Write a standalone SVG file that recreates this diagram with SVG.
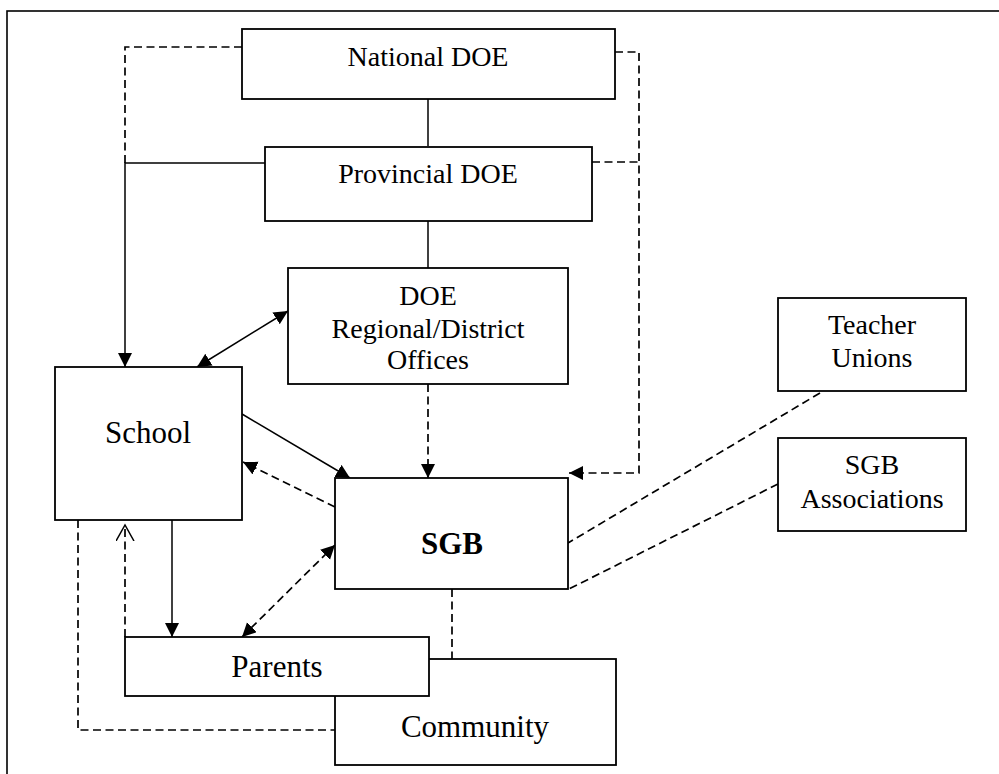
<svg xmlns="http://www.w3.org/2000/svg" width="999" height="774" viewBox="0 0 999 774">
<style>
.box{fill:#fff;stroke:#000;stroke-width:1.8}
.t{font-family:"Liberation Serif","Times New Roman",serif;font-size:28px;fill:#000;text-anchor:middle}
.tl{font-size:31px}
.b{font-weight:bold}
.c{fill:none;stroke:#000;stroke-width:1.5}
.d{stroke-dasharray:8 4.5;stroke-width:1.7}
</style>
<defs>
<marker id="ah" markerUnits="userSpaceOnUse" markerWidth="16" markerHeight="16" refX="14" refY="7" orient="auto-start-reverse">
<path d="M0,0 L14,7 L0,14 z" fill="#000"/>
</marker>
<marker id="oh" markerUnits="userSpaceOnUse" markerWidth="20" markerHeight="20" refX="16" refY="9" orient="auto">
<path d="M0,0 L16,9 L0,18" fill="none" stroke="#000" stroke-width="1.5"/>
</marker>
</defs>
<rect x="7" y="11" width="1000" height="800" fill="#fff" stroke="#000" stroke-width="1.6"/>
<g id="connectors">
<path class="c" d="M428,99 V146"/>
<path class="c" d="M428,221 V268"/>
<path class="c d" d="M242,47 H125 V163"/>
<path class="c" d="M265,163 H125 V367" marker-end="url(#ah)"/>
<path class="c d" d="M615,52 H639 V473 H569" marker-end="url(#ah)"/>
<path class="c d" d="M592,162 H639"/>
<path class="c" d="M197,367 L288,311" marker-start="url(#ah)" marker-end="url(#ah)"/>
<path class="c d" d="M428,384 V478" marker-end="url(#ah)"/>
<path class="c" d="M242,414 L350,478" marker-end="url(#ah)"/>
<path class="c d" d="M335,507 L243,462" marker-end="url(#ah)"/>
<path class="c d" d="M242,637 L335,545" marker-start="url(#ah)" marker-end="url(#ah)"/>
<path class="c" d="M172,520 V637" marker-end="url(#ah)"/>
<path class="c d" d="M125,637 V525" marker-end="url(#oh)"/>
<path class="c d" d="M78,520 V730 H335"/>
<path class="c d" d="M452,589 V659"/>
<path class="c d" d="M820,393 L568,543"/>
<path class="c d" d="M778,484 L569,589"/>
</g>
<g id="national">
<rect class="box" x="242" y="29" width="373" height="70"/>
<text class="t" x="428" y="66">National DOE</text>
</g>
<g id="provincial">
<rect class="box" x="265" y="147" width="327" height="74"/>
<text class="t" x="428" y="183">Provincial DOE</text>
</g>
<g id="regional">
<rect class="box" x="288" y="268" width="280" height="116"/>
<text class="t" x="428" y="305">DOE</text>
<text class="t" x="428" y="338">Regional/District</text>
<text class="t" x="428" y="369">Offices</text>
</g>
<g id="school">
<rect class="box" x="55" y="367" width="187" height="153"/>
<text class="t tl" x="148" y="443">School</text>
</g>
<g id="sgb">
<rect class="box" x="335" y="478" width="233" height="111"/>
<text class="t tl b" x="452" y="554">SGB</text>
</g>
<g id="teacher-unions">
<rect class="box" x="778" y="298" width="188" height="93"/>
<text class="t" x="872" y="334">Teacher</text>
<text class="t" x="872" y="367">Unions</text>
</g>
<g id="sgb-associations">
<rect class="box" x="778" y="438" width="188" height="93"/>
<text class="t" x="872" y="474">SGB</text>
<text class="t" x="872" y="508">Associations</text>
</g>
<g id="community">
<rect class="box" x="335" y="659" width="281" height="106"/>
<text class="t tl" x="475" y="737">Community</text>
</g>
<g id="parents">
<rect class="box" x="125" y="637" width="304" height="59"/>
<text class="t tl" x="277" y="677">Parents</text>
</g>
</svg>
